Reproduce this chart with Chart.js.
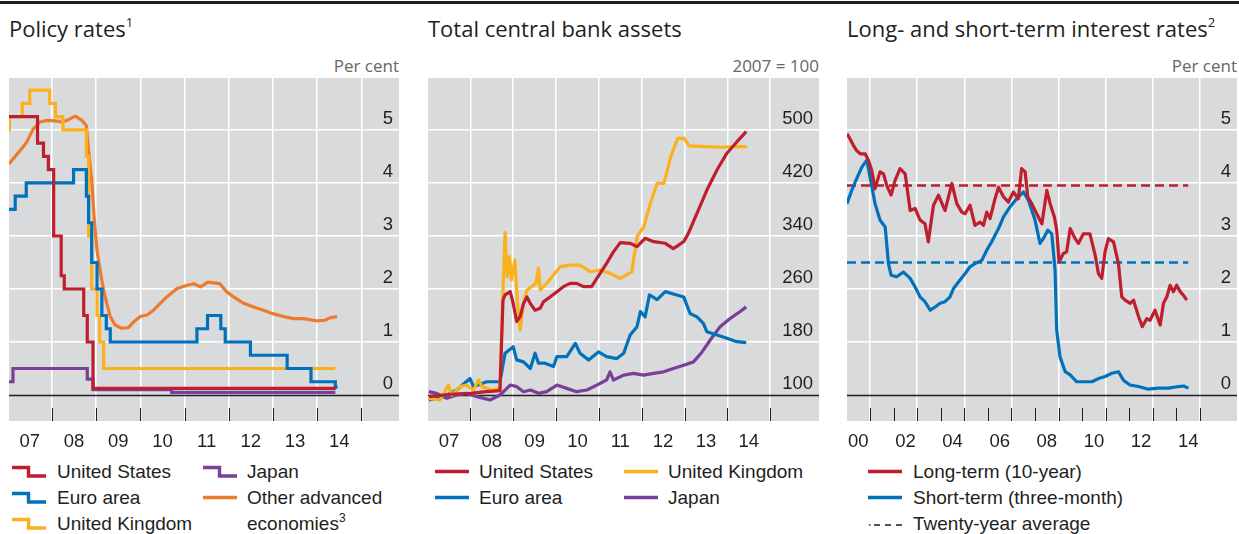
<!DOCTYPE html>
<html>
<head>
<meta charset="utf-8">
<script src="https://cdn.jsdelivr.net/npm/chart.js@4.4.1/dist/chart.umd.min.js"></script>
<style>
  body { margin: 0; width: 1239px; height: 534px; position: relative; overflow: hidden; background: #fff;
         font-family: "Liberation Sans", Arial, sans-serif; color: #231f20; }
  .rule { position: absolute; left: 0; top: 1px; width: 1239px; height: 3px; background: #231f20; }
  .title { position: absolute; top: 17px; font-family: "Open Sans", sans-serif; font-size: 22px; line-height: 1; white-space: nowrap; }
  .title sup { font-size: 13px; line-height: 0; vertical-align: 10px; }
  .unit { position: absolute; top: 57px; font-family: "Open Sans", sans-serif; font-size: 17px; line-height: 1; color: #666; white-space: nowrap; }
  canvas { position: absolute; top: 78px; }
  .lg { position: absolute; font-size: 19px; line-height: 1; white-space: nowrap; }
  .sym { position: absolute; }
</style>
</head>
<body>
<div class="rule"></div>

<div class="title" style="left:9px">Policy rates<sup>1</sup></div>
<div class="title" style="left:428px">Total central bank assets</div>
<div class="title" style="left:847px">Long- and short-term interest rates<sup>2</sup></div>

<div class="unit" style="right:840px">Per cent</div>
<div class="unit" style="right:420px">2007 = 100</div>
<div class="unit" style="right:2px">Per cent</div>

<canvas id="c1" width="390" height="383" style="left:9px"></canvas>
<canvas id="c2" width="391" height="383" style="left:428px"></canvas>
<canvas id="c3" width="390" height="383" style="left:847px"></canvas>

<div id="legends"></div>

<script>
// ---- panel 1: policy rates (change dates, per cent) ----
const usPolicy = [[2007.03, 5.25], [2007.675, 4.75], [2007.81, 4.5], [2007.92, 4.25], [2008.04, 3.0],
  [2008.21, 2.25], [2008.28, 2.0], [2008.72, 1.5], [2008.8, 1.0], [2008.93, 0.125], [2014.42, 0.125]];
const euroPolicy = [[2007.03, 3.5], [2007.17, 3.75], [2007.42, 4.0], [2008.49, 4.25], [2008.78, 3.75],
  [2008.83, 3.25], [2008.9, 2.5], [2009.02, 2.0], [2009.13, 1.5], [2009.23, 1.25], [2009.32, 1.0],
  [2011.28, 1.25], [2011.52, 1.5], [2011.82, 1.25], [2011.92, 1.0], [2012.49, 0.75], [2013.32, 0.5],
  [2013.86, 0.25], [2014.41, 0.15], [2014.46, 0.15]];
const ukPolicy = [[2007.03, 5.0], [2007.04, 5.25], [2007.33, 5.5], [2007.5, 5.75], [2007.95, 5.5],
  [2008.08, 5.25], [2008.25, 5.0], [2008.78, 4.5], [2008.83, 3.0], [2008.9, 2.0], [2009.02, 1.5],
  [2009.08, 1.0], [2009.17, 0.5], [2014.41, 0.5]];
const japanPolicy = [[2007.03, 0.25], [2007.12, 0.5], [2008.8, 0.3], [2008.93, 0.1], [2010.71, 0.05], [2014.41, 0.05]];
const otherPolicy = [[2007.03, 4.36], [2007.13, 4.46], [2007.28, 4.61], [2007.43, 4.77], [2007.58, 5.02],
  [2007.73, 5.15], [2007.88, 5.18], [2008.07, 5.17], [2008.23, 5.15], [2008.34, 5.18], [2008.53, 5.26],
  [2008.68, 5.18], [2008.78, 5.08], [2008.83, 4.61], [2008.9, 4.05], [2008.96, 3.3], [2009.02, 2.73],
  [2009.09, 2.35], [2009.17, 1.98], [2009.24, 1.73], [2009.32, 1.48], [2009.43, 1.32], [2009.58, 1.26],
  [2009.73, 1.27], [2009.85, 1.38], [2010.0, 1.48], [2010.15, 1.51], [2010.3, 1.6], [2010.45, 1.73],
  [2010.6, 1.85], [2010.83, 2.01], [2011.06, 2.07], [2011.21, 2.1], [2011.36, 2.04], [2011.53, 2.13],
  [2011.8, 2.1], [2011.95, 1.95], [2012.11, 1.85], [2012.34, 1.73], [2012.56, 1.66], [2012.79, 1.6],
  [2012.97, 1.54], [2013.24, 1.48], [2013.47, 1.44], [2013.69, 1.44], [2013.99, 1.4], [2014.18, 1.41],
  [2014.3, 1.46], [2014.45, 1.48]];

// ---- panel 2: total central bank assets (2007 = 100) ----
const usAssets = [[2007.03, 97.5], [2007.6, 101.5], [2007.99, 102.5], [2008.38, 105], [2008.69, 106.5],
  [2008.76, 243], [2008.81, 251], [2008.93, 256], [2009.0, 238], [2009.08, 211], [2009.16, 218],
  [2009.24, 238], [2009.32, 248], [2009.4, 238], [2009.51, 228], [2009.63, 231], [2009.71, 241],
  [2009.86, 248], [2010.02, 256], [2010.17, 263.5], [2010.33, 268.5], [2010.48, 268.5], [2010.64, 263.5],
  [2010.83, 263.5], [2010.98, 278.6], [2011.18, 298.7], [2011.34, 316], [2011.5, 330], [2011.73, 329],
  [2011.89, 324], [2012.08, 336.5], [2012.28, 331.4], [2012.55, 329], [2012.74, 321], [2012.98, 331.4],
  [2013.09, 344], [2013.29, 374], [2013.52, 409], [2013.76, 440], [2013.99, 465], [2014.22, 482], [2014.44, 497.5]];
const ukAssets = [[2007.03, 95], [2007.29, 92.5], [2007.49, 115], [2007.56, 100], [2007.76, 112.6],
  [2007.91, 115], [2008.07, 107.5], [2008.19, 122.6], [2008.27, 112.6], [2008.5, 107.5], [2008.69, 110],
  [2008.75, 238], [2008.81, 345], [2008.86, 278.6], [2008.91, 308.8], [2008.96, 273.6], [2009.04, 303.8],
  [2009.1, 238], [2009.16, 198], [2009.24, 238], [2009.32, 258.5], [2009.43, 263.5], [2009.53, 268.5],
  [2009.59, 291], [2009.63, 258.5], [2009.78, 268.5], [2009.94, 281], [2010.1, 293.7], [2010.33, 296],
  [2010.56, 296], [2010.8, 286], [2011.03, 288.7], [2011.26, 283.6], [2011.5, 276], [2011.77, 286],
  [2011.89, 339], [2012.05, 354], [2012.2, 389], [2012.36, 419.5], [2012.52, 419.5], [2012.68, 460],
  [2012.84, 487.4], [2012.99, 487.4], [2013.11, 476], [2013.46, 475], [2013.85, 474], [2014.16, 475], [2014.46, 475]];
const euroAssets = [[2007.03, 92.5], [2007.37, 97.5], [2007.68, 107.5], [2007.99, 125], [2008.07, 112.6],
  [2008.38, 120], [2008.69, 120], [2008.81, 163], [2009.0, 173], [2009.08, 153], [2009.24, 150],
  [2009.4, 140], [2009.51, 163], [2009.59, 148], [2009.74, 148], [2009.94, 143], [2010.02, 158],
  [2010.25, 158], [2010.45, 178], [2010.56, 163], [2010.76, 153], [2010.99, 165], [2011.18, 158],
  [2011.42, 155], [2011.58, 163], [2011.73, 190.6], [2011.89, 203], [2011.97, 226], [2012.08, 218],
  [2012.18, 251], [2012.36, 244], [2012.55, 256], [2012.74, 252.5], [2012.98, 248], [2013.13, 223],
  [2013.29, 218], [2013.44, 208], [2013.52, 195.6], [2013.76, 190.6], [2013.99, 185.5], [2014.22, 180.5], [2014.44, 179]];
const japanAssets = [[2007.03, 105], [2007.21, 102.5], [2007.45, 95], [2007.68, 100], [2007.91, 102.5],
  [2008.15, 97.5], [2008.46, 92.5], [2008.69, 100], [2008.93, 115], [2009.08, 112.6], [2009.24, 105],
  [2009.4, 107.5], [2009.59, 102.5], [2009.78, 105], [2010.02, 115], [2010.25, 110], [2010.48, 105],
  [2010.72, 107.5], [2010.95, 115], [2011.18, 122.6], [2011.26, 135], [2011.34, 122.6], [2011.58, 130],
  [2011.81, 132.7], [2012.04, 130], [2012.28, 132.7], [2012.51, 135], [2012.74, 140], [2012.98, 145],
  [2013.21, 150], [2013.41, 165], [2013.6, 183], [2013.83, 203], [2014.07, 215.7], [2014.3, 226], [2014.44, 233]];

// ---- panel 3: long- and short-term interest rates (per cent) ----
const longRate = [[2000.02, 4.93], [2000.15, 4.83], [2000.29, 4.71], [2000.43, 4.61], [2000.58, 4.55],
  [2000.79, 4.55], [2000.93, 4.43], [2001.07, 4.24], [2001.21, 3.89], [2001.42, 4.21], [2001.57, 4.17],
  [2001.71, 3.95], [2001.89, 3.77], [2002.06, 4.05], [2002.27, 4.27], [2002.49, 4.17], [2002.7, 3.48],
  [2002.91, 3.52], [2003.12, 3.3], [2003.33, 3.23], [2003.47, 2.89], [2003.69, 3.58], [2003.9, 3.77],
  [2004.18, 3.48], [2004.47, 3.99], [2004.68, 3.61], [2004.89, 3.45], [2005.03, 3.42], [2005.24, 3.58],
  [2005.45, 3.2], [2005.67, 3.26], [2005.81, 3.2], [2005.95, 3.45], [2006.09, 3.33], [2006.3, 3.7],
  [2006.45, 3.92], [2006.66, 3.74], [2006.87, 3.64], [2007.08, 3.83], [2007.29, 3.7], [2007.43, 4.27],
  [2007.58, 4.21], [2007.69, 3.74], [2007.86, 3.61], [2008.07, 3.42], [2008.29, 3.23], [2008.5, 3.86],
  [2008.64, 3.61], [2008.82, 3.36], [2008.92, 3.11], [2009.02, 2.51], [2009.2, 2.67], [2009.34, 2.7],
  [2009.49, 3.14], [2009.7, 2.95], [2009.84, 2.86], [2010.05, 3.04], [2010.33, 3.04], [2010.55, 2.64],
  [2010.69, 2.29], [2010.83, 2.2], [2010.97, 2.7], [2011.11, 2.95], [2011.33, 2.89], [2011.54, 2.48],
  [2011.68, 1.85], [2011.82, 1.79], [2012.04, 1.73], [2012.18, 1.79], [2012.39, 1.48], [2012.55, 1.29],
  [2012.74, 1.44], [2012.88, 1.41], [2013.09, 1.6], [2013.31, 1.32], [2013.45, 1.73], [2013.59, 1.85],
  [2013.73, 2.07], [2013.87, 1.95], [2014.01, 2.07], [2014.16, 1.95], [2014.3, 1.88], [2014.44, 1.79]];
const shortRate = [[2000.02, 3.61], [2000.22, 3.86], [2000.43, 4.08], [2000.65, 4.3], [2000.86, 4.43],
  [2001.0, 4.11], [2001.21, 3.61], [2001.42, 3.3], [2001.64, 3.17], [2001.78, 2.48], [2001.89, 2.26],
  [2002.13, 2.23], [2002.42, 2.32], [2002.7, 2.2], [2002.91, 2.04], [2003.12, 1.85], [2003.33, 1.76],
  [2003.55, 1.6], [2003.76, 1.66], [2003.97, 1.73], [2004.18, 1.76], [2004.39, 1.85], [2004.54, 2.01],
  [2004.75, 2.13], [2005.03, 2.29], [2005.24, 2.42], [2005.45, 2.48], [2005.74, 2.54], [2005.95, 2.73],
  [2006.16, 2.89], [2006.45, 3.14], [2006.66, 3.36], [2006.94, 3.55], [2007.22, 3.7], [2007.51, 3.83],
  [2007.72, 3.67], [2008.0, 3.3], [2008.21, 2.86], [2008.35, 2.95], [2008.54, 3.11], [2008.71, 3.04],
  [2008.85, 2.35], [2008.92, 1.22], [2009.06, 0.72], [2009.28, 0.44], [2009.49, 0.38], [2009.77, 0.25],
  [2010.12, 0.25], [2010.41, 0.25], [2010.69, 0.31], [2010.97, 0.35], [2011.26, 0.41], [2011.54, 0.44],
  [2011.75, 0.28], [2012.03, 0.19], [2012.39, 0.16], [2012.81, 0.11], [2013.24, 0.13], [2013.66, 0.13],
  [2014.09, 0.16], [2014.3, 0.17], [2014.51, 0.13]];
const longAverage = 3.95;
const shortAverage = 2.5;
const averageSpan = [2000.02, 2014.5];

// ---- axes ----
const yearLabels1 = ["07", "08", "09", "10", "11", "12", "13", "14"];
const yearLabels3 = ["00", "02", "04", "06", "08", "10", "12", "14"];
const rateTicks = [0, 1, 2, 3, 4, 5];
const assetTicks = [100, 180, 260, 340, 420, 500];

const RED = "#be1e2d", BLUE = "#0071bb", YELLOW = "#fbb11c", ORANGE = "#ee7b2d", PURPLE = "#7a3f98";
const INK = "#231f20", PANEL = "#d9dadb";

const deco = {
  id: "deco",
  beforeDraw(chart, args, o) {
    const { ctx, chartArea: a } = chart;
    ctx.save();
    ctx.fillStyle = PANEL;
    ctx.fillRect(a.left, a.top, a.right - a.left, a.bottom - a.top);
    ctx.restore();
  },
  beforeDatasetsDraw(chart, args, o) {
    const { ctx, chartArea: a, scales: { x, y } } = chart;
    ctx.save();
    // baseline
    const yb = Math.round(y.getPixelForValue(o.base)) + 0.5;
    ctx.strokeStyle = INK;
    ctx.lineWidth = 1.5;
    ctx.beginPath();
    ctx.moveTo(a.left, yb);
    ctx.lineTo(a.right, yb);
    ctx.stroke();
    // small tick marks at the foot of the panel
    ctx.lineWidth = 1;
    ctx.beginPath();
    o.marks.forEach(v => {
      const px = Math.round(x.getPixelForValue(v)) + 0.5;
      ctx.moveTo(px, a.bottom - 13);
      ctx.lineTo(px, a.bottom);
    });
    ctx.stroke();
    // labels
    ctx.fillStyle = INK;
    ctx.font = '18.5px "Liberation Sans", Arial, sans-serif';
    ctx.textAlign = "right";
    ctx.textBaseline = "alphabetic";
    o.yLabels.forEach(v => ctx.fillText(String(v), a.right - 6, y.getPixelForValue(v) - 6));
    ctx.textAlign = "center";
    o.xLabels.forEach((t, i) => ctx.fillText(t, x.getPixelForValue(o.xLabelAt[i]), a.bottom + 25.5));
    ctx.restore();
  }
};

function line(data, color, stepped, extra) {
  return Object.assign({ data, borderColor: color, borderWidth: 3.2, pointRadius: 0, tension: 0,
    stepped: stepped, borderJoinStyle: stepped ? "miter" : "round", borderCapStyle: "butt" }, extra || {});
}

function makeChart(id, datasets, s) {
  return new Chart(document.getElementById(id), {
    type: "line",
    data: { datasets },
    options: {
      responsive: false,
      animation: false,
      devicePixelRatio: 1,
      parsing: { xAxisKey: 0, yAxisKey: 1 },
      layout: { padding: 0 },
      plugins: { legend: { display: false }, tooltip: { enabled: false }, deco: s.deco },
      scales: {
        x: {
          type: "linear", min: s.xMin, max: s.xMax,
          afterBuildTicks: sc => { sc.ticks = s.xGrid.map(v => ({ value: v })); },
          afterFit: sc => { sc.height = 40; },
          ticks: { display: false },
          grid: { color: "#fff", lineWidth: 1.5, drawTicks: false },
          border: { display: false }
        },
        y: {
          type: "linear", position: "right", min: s.yMin, max: s.yMax,
          afterBuildTicks: sc => { sc.ticks = s.yGrid.map(v => ({ value: v })); },
          afterFit: sc => { sc.width = 0; },
          ticks: { display: false },
          grid: { color: "#fff", lineWidth: 1.5, drawTicks: false },
          border: { display: false }
        }
      }
    },
    plugins: [deco]
  });
}

const years1 = [2008, 2009, 2010, 2011, 2012, 2013, 2014, 2015];
const mid1 = yearLabels1.map(t => 2000 + Number(t) + 0.5);
const mid3 = yearLabels3.map(t => 2000 + Number(t) + 0.5);

makeChart("c1", [
  line(usPolicy, RED, true),
  line(euroPolicy, BLUE, true),
  line(ukPolicy, YELLOW, true),
  line(japanPolicy, PURPLE, true),
  line(otherPolicy, ORANGE, false)
], {
  xMin: 2007.03, xMax: 2015.85, yMin: -0.49, yMax: 5.98,
  xGrid: years1, yGrid: rateTicks.filter(v => v > 0),
  deco: { base: 0, marks: years1, yLabels: rateTicks, xLabels: yearLabels1, xLabelAt: mid1 }
});

makeChart("c2", [
  line(usAssets, RED, false),
  line(ukAssets, YELLOW, false),
  line(euroAssets, BLUE, false),
  line(japanAssets, PURPLE, false)
], {
  xMin: 2007.01, xMax: 2016.14, yMin: 60.75, yMax: 578.5,
  xGrid: years1, yGrid: assetTicks.filter(v => v > 100),
  deco: { base: 100, marks: years1, yLabels: assetTicks, xLabels: yearLabels1, xLabelAt: mid1 }
});

const odd3 = [2001, 2003, 2005, 2007, 2009, 2011, 2013, 2015];
const every3 = [2001, 2002, 2003, 2004, 2005, 2006, 2007, 2008, 2009, 2010, 2011, 2012, 2013, 2014, 2015];
makeChart("c3", [
  line(longRate, RED, false),
  line(shortRate, BLUE, false),
  line(averageSpan.map(v => [v, longAverage]), RED, false, { borderWidth: 2.5, borderDash: [9, 5] }),
  line(averageSpan.map(v => [v, shortAverage]), BLUE, false, { borderWidth: 2.5, borderDash: [9, 5] })
], {
  xMin: 2000.02, xMax: 2016.57, yMin: -0.49, yMax: 5.98,
  xGrid: odd3, yGrid: rateTicks.filter(v => v > 0),
  deco: { base: 0, marks: every3, yLabels: rateTicks, xLabels: yearLabels3, xLabelAt: mid3 }
});

// ---- legends (HTML) ----
const legendItems = [
  { x: 12, tx: 57, row: 0, kind: "step", color: RED, text: "United States" },
  { x: 12, tx: 57, row: 1, kind: "step", color: BLUE, text: "Euro area" },
  { x: 12, tx: 57, row: 2, kind: "step", color: YELLOW, text: "United Kingdom" },
  { x: 203, tx: 247, row: 0, kind: "step", color: PURPLE, text: "Japan" },
  { x: 203, tx: 247, row: 1, kind: "line", color: ORANGE, text: "Other advanced" },
  { x: 203, tx: 247, row: 2, kind: "none", color: ORANGE, text: "economies<sup style='font-size:12px;line-height:0;vertical-align:8px'>3</sup>" },
  { x: 435, tx: 479, row: 0, kind: "line", color: RED, text: "United States" },
  { x: 435, tx: 479, row: 1, kind: "line", color: BLUE, text: "Euro area" },
  { x: 624, tx: 668, row: 0, kind: "line", color: YELLOW, text: "United Kingdom" },
  { x: 624, tx: 668, row: 1, kind: "line", color: PURPLE, text: "Japan" },
  { x: 868, tx: 913, row: 0, kind: "line", color: RED, text: "Long-term (10-year)" },
  { x: 868, tx: 913, row: 1, kind: "line", color: BLUE, text: "Short-term (three-month)" },
  { x: 868, tx: 913, row: 2, kind: "dash", color: INK, text: "Twenty-year average" }
];
const rowTop = [462, 488, 514];
const holder = document.getElementById("legends");
legendItems.forEach(it => {
  const top = rowTop[it.row];
  let svg = "";
  if (it.kind === "step") {
    svg = `<svg class="sym" style="left:${it.x}px;top:${top}px" width="34" height="22"><path d="M0 5.5 H16.5 V14 H34" fill="none" stroke="${it.color}" stroke-width="3.4"/></svg>`;
  } else if (it.kind === "line") {
    svg = `<svg class="sym" style="left:${it.x}px;top:${top}px" width="34" height="22"><path d="M0 9.5 H34" fill="none" stroke="${it.color}" stroke-width="3.6"/></svg>`;
  } else if (it.kind === "dash") {
    svg = `<svg class="sym" style="left:${it.x}px;top:${top}px" width="34" height="22"><path d="M1 11 H2.5 M6 11 H12 M17 11 H23 M28 11 H34" fill="none" stroke="${it.color}" stroke-width="1.6"/></svg>`;
  }
  holder.insertAdjacentHTML("beforeend", svg + `<div class="lg" style="left:${it.tx}px;top:${top}px">${it.text}</div>`);
});
</script>
</body>
</html>
